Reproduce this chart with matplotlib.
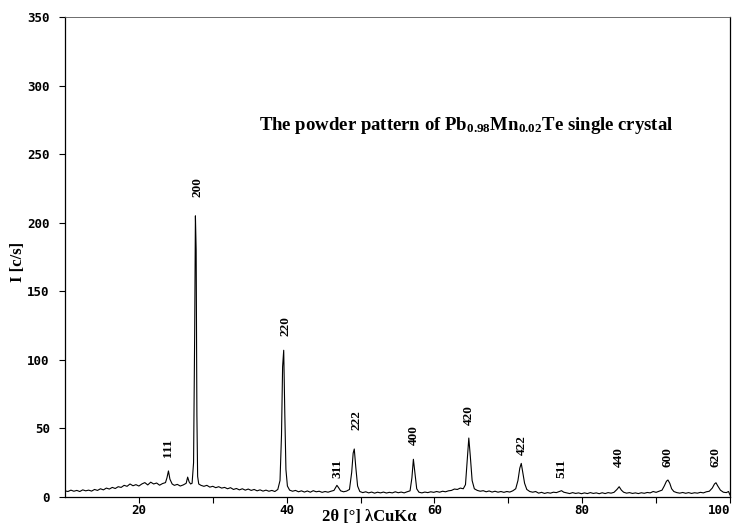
import matplotlib
matplotlib.use("Agg")
import matplotlib.pyplot as plt

# ---- data ----
two_theta = [
    10.0, 10.4, 10.8, 11.2, 11.6, 12.0, 12.4, 12.8, 13.2, 13.6, 14.0, 14.4, 14.8, 15.2, 15.6, 16.0,
    16.4, 16.8, 17.2, 17.6, 18.0, 18.4, 18.8, 19.2, 19.6, 20.0, 20.4, 20.8, 21.2, 21.6, 22.0, 22.4,
    22.8, 23.2, 23.6, 23.8, 24.0, 24.2, 24.5, 24.8, 25.2, 25.6, 26.0, 26.4, 26.6, 26.8, 27.0, 27.2,
    27.4, 27.55, 27.65, 27.75, 27.85, 27.95, 28.1, 28.4, 28.8, 29.2, 29.6, 30.0, 30.4, 30.8, 31.2,
    31.6, 32.0, 32.4, 32.8, 33.2, 33.6, 34.0, 34.4, 34.8, 35.2, 35.6, 36.0, 36.4, 36.8, 37.2, 37.6,
    38.0, 38.4, 38.8, 39.1, 39.3, 39.45, 39.6, 39.75, 39.9, 40.1, 40.4, 40.8, 41.2, 41.6, 42.0, 42.4,
    42.8, 43.2, 43.6, 44.0, 44.4, 44.8, 45.2, 45.6, 46.0, 46.4, 46.8, 47.0, 47.3, 47.7, 48.1, 48.5,
    48.8, 49.0, 49.15, 49.35, 49.6, 49.9, 50.3, 50.7, 51.1, 51.5, 51.9, 52.3, 52.7, 53.1, 53.5, 53.9,
    54.3, 54.7, 55.1, 55.5, 55.9, 56.3, 56.7, 56.95, 57.15, 57.35, 57.6, 57.9, 58.3, 58.7, 59.1, 59.5,
    59.9, 60.3, 60.7, 61.1, 61.5, 61.9, 62.3, 62.7, 63.1, 63.5, 63.9, 64.2, 64.45, 64.65, 64.85, 65.1,
    65.4, 65.8, 66.2, 66.6, 67.0, 67.4, 67.8, 68.2, 68.6, 69.0, 69.4, 69.8, 70.2, 70.6, 71.0, 71.3,
    71.55, 71.75, 71.95, 72.2, 72.5, 72.9, 73.3, 73.7, 74.1, 74.5, 74.9, 75.3, 75.7, 76.1, 76.5, 76.9,
    77.2, 77.5, 77.9, 78.3, 78.7, 79.1, 79.5, 79.9, 80.3, 80.7, 81.1, 81.5, 81.9, 82.3, 82.7, 83.1,
    83.5, 83.9, 84.3, 84.7, 85.0, 85.3, 85.6, 86.0, 86.4, 86.8, 87.2, 87.6, 88.0, 88.4, 88.8, 89.2,
    89.6, 90.0, 90.4, 90.8, 91.1, 91.4, 91.6, 91.85, 92.1, 92.4, 92.8, 93.2, 93.6, 94.0, 94.4, 94.8,
    95.2, 95.6, 96.0, 96.4, 96.8, 97.2, 97.6, 97.9, 98.1, 98.35, 98.7, 99.1, 99.5, 99.8, 100.0,
]
intensity = [
    4.5, 4.0, 5.0, 4.2, 4.8, 4.0, 5.2, 4.5, 5.0, 4.3, 5.5, 4.8, 6.0, 5.2, 6.5, 5.8,
    7.0, 6.2, 7.5, 7.0, 8.5, 7.8, 9.5, 8.2, 9.0, 8.0, 9.5, 10.5, 8.8, 10.8, 9.5, 10.2,
    8.6, 9.8, 10.5, 14.0, 19.0, 13.0, 9.5, 8.5, 9.2, 8.0, 8.8, 10.0, 14.5, 11.0, 9.5, 10.0,
    25.0, 120.0, 205.0, 180.0, 60.0, 15.0, 9.5, 8.5, 7.8, 8.5, 7.2, 7.8, 6.8, 7.5, 6.5,
    7.0, 6.0, 6.8, 5.5, 6.2, 5.2, 6.0, 5.0, 5.8, 4.8, 5.5, 4.5, 5.2, 4.3, 5.0, 4.2,
    4.8, 4.0, 5.5, 12.0, 45.0, 95.0, 107.0, 60.0, 20.0, 8.0, 5.0, 4.2, 4.8, 3.8, 4.5, 3.6,
    4.4, 3.5, 4.6, 3.8, 4.2, 3.4, 4.0, 3.5, 4.2, 4.8, 8.5, 7.0, 4.5, 3.8, 4.3, 5.5,
    18.0, 32.0, 35.0, 22.0, 8.0, 4.0, 3.2, 3.8, 3.0, 3.6, 2.8, 3.5, 3.0, 3.6, 2.9, 3.4,
    3.0, 3.8, 3.1, 3.6, 3.0, 3.8, 4.5, 14.0, 27.5, 18.0, 6.0, 3.5, 3.0, 3.6, 3.2, 3.8,
    3.4, 4.0, 3.5, 4.2, 3.8, 4.5, 4.8, 5.8, 5.5, 6.5, 6.0, 9.0, 28.0, 43.0, 30.0, 12.0,
    6.0, 4.8, 4.2, 4.6, 3.8, 4.4, 3.6, 4.2, 3.5, 4.0, 3.4, 4.0, 3.6, 4.5, 6.0, 12.0,
    21.0, 24.5, 18.0, 10.0, 5.5, 4.0, 3.5, 4.0, 2.8, 3.4, 2.6, 3.2, 2.8, 3.5, 3.2, 4.0,
    4.6, 3.5, 3.0, 2.5, 3.2, 2.6, 3.0, 2.4, 3.0, 2.5, 3.2, 2.6, 3.0, 2.4, 3.1, 2.5,
    3.2, 2.8, 3.4, 5.5, 7.5, 5.0, 3.5, 2.8, 3.2, 2.6, 3.0, 2.5, 3.1, 2.7, 3.3, 3.0,
    4.0, 3.4, 4.2, 5.0, 8.0, 11.5, 12.4, 10.0, 6.0, 4.0, 3.2, 2.8, 3.3, 2.7, 3.2, 2.6,
    3.1, 2.8, 3.4, 3.0, 3.8, 4.2, 6.5, 9.5, 10.4, 8.0, 5.0, 3.5, 3.2, 4.0, 1.5,
]

# Miller-index labels: text, 2theta position, label centre height
hkl_labels = ["111", "200", "220", "311", "222", "400", "420", "422", "511", "440", "600", "620"]
hkl_x = [24.0, 27.9, 39.8, 46.9, 49.4, 57.2, 64.6, 71.8, 77.2, 85.0, 91.6, 98.0]
hkl_y = [36, 226, 125, 21, 56, 45, 60, 38, 21, 29, 29, 29]

x_ticks = [20, 40, 60, 80, 100]
x_minor = [30, 50, 70, 90]
y_ticks = [0, 50, 100, 150, 200, 250, 300, 350]

title_text = r"The powder pattern of Pb$_{\mathrm{0.98}}$Mn$_{\mathrm{0.02}}$Te single crystal"

# ---- style ----
plt.rcParams["mathtext.fontset"] = "custom"
plt.rcParams["mathtext.rm"] = "Liberation Serif:bold"
plt.rcParams["mathtext.it"] = "Liberation Serif:bold"
plt.rcParams["mathtext.bf"] = "Liberation Serif:bold"

fig = plt.figure(figsize=(7.33, 5.26), dpi=100)
ax = fig.add_axes([65 / 733, 29 / 526, 665 / 733, 480 / 526])

ax.plot(two_theta, intensity, color="black", lw=0.8)

ax.set_xlim(10, 100)
ax.set_ylim(0, 350)
ax.set_xticks(x_ticks)
ax.set_xticks(x_minor, minor=True)
ax.set_yticks(y_ticks)

mono = dict(family="DejaVu Sans Mono", size=9, weight="bold")
xlabs = ax.set_xticklabels([str(t) for t in x_ticks], fontdict=mono)
xlabs[-1].set_horizontalalignment("right")
ax.set_yticklabels([str(t) for t in y_ticks], fontdict=mono)
ax.tick_params(axis="x", which="both", direction="out", length=4, width=0.8, pad=1)
ax.tick_params(axis="y", direction="out", length=4, width=0.8, pad=7)

for s in ax.spines.values():
    s.set_linewidth(0.9)
ax.spines["top"].set_color("#555555")
ax.spines["top"].set_linewidth(0.6)

serif = "Liberation Serif"
for lab, xv, yv in zip(hkl_labels, hkl_x, hkl_y):
    ax.text(xv, yv, lab, rotation=90, ha="center", va="center",
            family=serif, weight="bold", size=9.5)

ax.text(36.3, 271, title_text, ha="left", va="center", family=serif,
        weight="bold", size=13.5)

fig.text(18 / 733, 1 - 262 / 526, "I [c/s]", rotation=90, ha="center", va="center",
         family=serif, weight="bold", size=12)
fig.text(369 / 733, 1 - 517 / 526, "2θ [°] λCuKα", ha="center", va="center",
         family=serif, weight="bold", size=12)

fig.savefig("out.png", dpi=100)
